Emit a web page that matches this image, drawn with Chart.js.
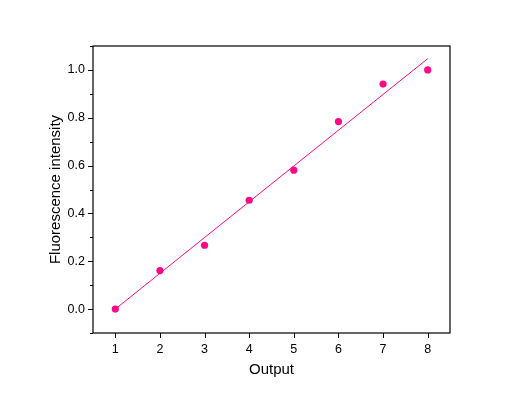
<!DOCTYPE html>
<html>
<head>
<meta charset="utf-8">
<script src="https://cdn.jsdelivr.net/npm/chart.js@4/dist/chart.umd.min.js"></script>
<style>
  html, body { margin: 0; padding: 0; background: #fff; }
  canvas { display: block; }
</style>
</head>
<body>
<canvas id="chart" width="524" height="401"></canvas>
<script>
// measured points
const outputs = [1, 2, 3, 4, 5, 6, 7, 8];
const intensity = [0.0, 0.161, 0.267, 0.455, 0.581, 0.784, 0.941, 1.0];

// linear fit line, end points
const fitX = [1, 8];
const fitY = [0.0, 1.047];

const xTicks = [1, 2, 3, 4, 5, 6, 7, 8];
const yMajor = [0.0, 0.2, 0.4, 0.6, 0.8, 1.0];
const yMinor = [-0.1, 0.1, 0.3, 0.5, 0.7, 0.9, 1.1];

const pink = '#ff0a84';

// frame + outward tick marks (major 5px, minor 3px)
const framePlugin = {
  id: 'frame',
  afterDraw(chart) {
    const { ctx, chartArea: a, scales } = chart;
    ctx.save();
    ctx.strokeStyle = '#000';
    ctx.lineWidth = 1.2;
    ctx.strokeRect(a.left, a.top, a.right - a.left, a.bottom - a.top);
    ctx.lineWidth = 1;
    ctx.beginPath();
    xTicks.forEach(v => {
      const x = Math.round(scales.x.getPixelForValue(v)) + 0.5;
      ctx.moveTo(x, a.bottom);
      ctx.lineTo(x, a.bottom + 5);
    });
    yMajor.forEach(v => {
      const y = Math.round(scales.y.getPixelForValue(v)) + 0.5;
      ctx.moveTo(a.left, y);
      ctx.lineTo(a.left - 5, y);
    });
    yMinor.forEach(v => {
      const y = Math.round(scales.y.getPixelForValue(v)) + 0.5;
      ctx.moveTo(a.left, y);
      ctx.lineTo(a.left - 3, y);
    });
    ctx.stroke();
    ctx.restore();
  }
};

new Chart(document.getElementById('chart'), {
  type: 'scatter',
  data: {
    datasets: [
      {
        label: 'fit',
        type: 'line',
        data: fitX.map((x, i) => ({ x: x, y: fitY[i] })),
        borderColor: pink,
        borderWidth: 1,
        pointRadius: 0,
        fill: false,
        order: 2
      },
      {
        label: 'data',
        data: outputs.map((x, i) => ({ x: x, y: intensity[i] })),
        backgroundColor: pink,
        borderColor: pink,
        pointRadius: 3.6,
        borderWidth: 0,
        order: 1
      }
    ]
  },
  options: {
    responsive: false,
    animation: false,
    layout: { padding: { left: 43, right: 74, top: 46, bottom: 22 } },
    plugins: {
      legend: { display: false },
      tooltip: { enabled: false }
    },
    scales: {
      x: {
        type: 'linear',
        min: 0.5,
        max: 8.5,
        afterBuildTicks: s => { s.ticks = xTicks.map(v => ({ value: v })); },
        afterFit: s => { s.height = 46; },
        grid: { display: false, drawTicks: false, tickLength: 0 },
        border: { display: false },
        ticks: {
          padding: 9,
          color: '#000',
          font: { family: 'Liberation Sans', size: 12.5 },
          maxRotation: 0
        },
        title: {
          display: true,
          text: 'Output',
          color: '#000',
          font: { family: 'Liberation Sans', size: 15 },
          padding: { top: 4, bottom: 0 }
        }
      },
      y: {
        type: 'linear',
        min: -0.1,
        max: 1.1,
        afterBuildTicks: s => { s.ticks = yMajor.map(v => ({ value: v })); },
        afterFit: s => { s.width = 50; },
        grid: { display: false, drawTicks: false, tickLength: 0 },
        border: { display: false },
        ticks: {
          padding: 8,
          color: '#000',
          font: { family: 'Liberation Sans', size: 12.5 },
          callback: v => v.toFixed(1)
        },
        title: {
          display: true,
          text: 'Fluorescence intensity',
          color: '#000',
          font: { family: 'Liberation Sans', size: 15 },
          padding: { top: 4, bottom: 4 }
        }
      }
    }
  },
  plugins: [framePlugin]
});
</script>
</body>
</html>
